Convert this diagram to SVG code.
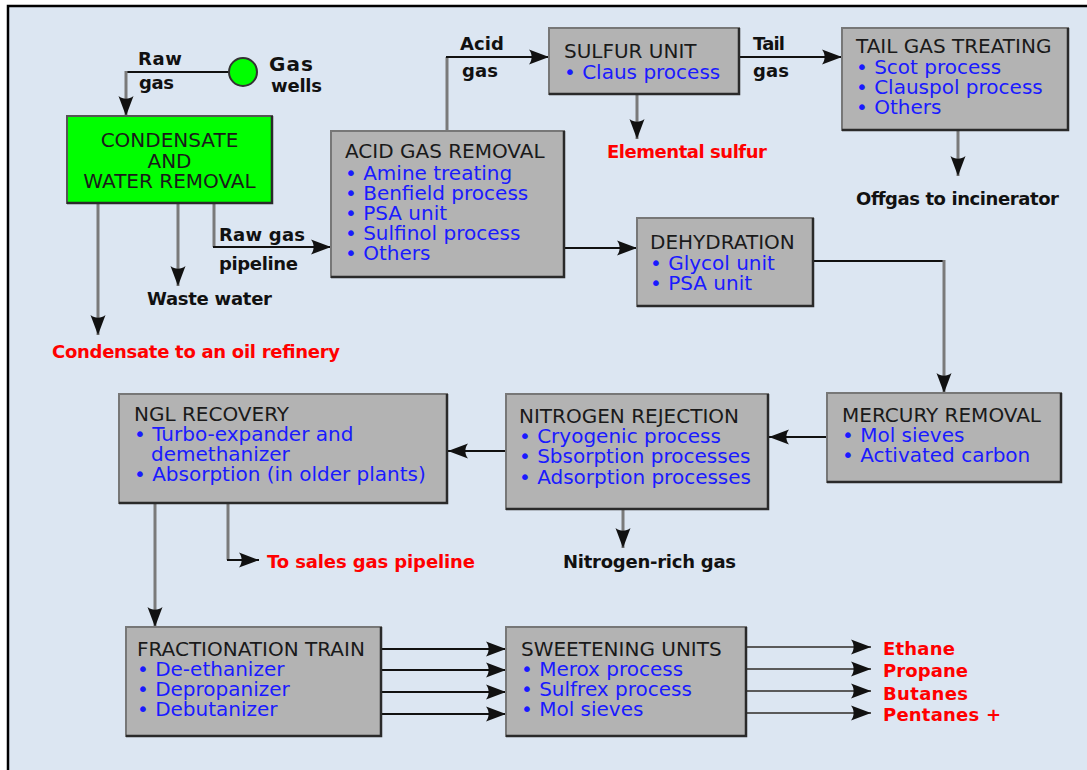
<svg xmlns="http://www.w3.org/2000/svg" width="1087" height="770" viewBox="0 0 1087 770">
<style>
.box{fill:#b3b3b3;stroke:#777;stroke-width:2}
.sh{fill:none;stroke:#2a2a2a;stroke-width:2.5}
.hd{font-family:"DejaVu Sans",Verdana,sans-serif;font-size:20px;fill:#1a1a1a}
.it{font-family:"DejaVu Sans",Verdana,sans-serif;font-size:20px;fill:#1a1aff}
.lb{font-family:"DejaVu Sans","Liberation Sans",sans-serif;font-size:18px;font-weight:bold;fill:#111}
.rd{fill:#ff0000}
.h{fill:none;stroke:#111;stroke-width:2}
.v{fill:none;stroke:#7a7a7a;stroke-width:3}
.g{fill:none;stroke:#5a5a5a;stroke-width:2.2}
.a{marker-end:url(#arr)}
</style>
<defs>
<marker id="arr" markerUnits="userSpaceOnUse" markerWidth="24" markerHeight="18" viewBox="-22 -9 24 18" refX="0" refY="0" orient="auto">
<path d="M0,0 L-20,-7.5 C-16.5,-3 -16.5,3 -20,7.5 Z" fill="#111"/>
</marker>
</defs>
<rect x="0" y="0" width="1087" height="770" fill="#ffffff"/>
<rect x="8" y="6" width="1079" height="764" fill="#dce6f2"/>
<path d="M8,770 V6 H1087" fill="none" stroke="#000" stroke-width="2.5"/>

<g id="connectors">
<path class="h" d="M229,72 H126"/>
<path class="v a" d="M126,71 V116"/>
<path class="v a" d="M98,204 V335"/>
<path class="v a" d="M178,204 V286"/>
<path class="v" d="M214,204 V247"/>
<path class="h a" d="M213,247 H331"/>
<path class="v" d="M447,131 V57"/>
<path class="h a" d="M446,57 H549"/>
<path class="v a" d="M637,95 V139"/>
<path class="h a" d="M740,57 H842"/>
<path class="v a" d="M958,131 V176"/>
<path class="h a" d="M565,248 H637"/>
<path class="h" d="M814,261 H945"/>
<path class="v a" d="M944,260 V393"/>
<path class="h a" d="M827,437 H769"/>
<path class="h a" d="M506,451 H448"/>
<path class="v a" d="M623,510 V548"/>
<path class="v" d="M228,504 V560"/>
<path class="h a" d="M227,560 H259"/>
<path class="v a" d="M155,504 V627"/>
<path class="h a" d="M382,649 H506"/>
<path class="h a" d="M382,670 H506"/>
<path class="h a" d="M382,692 H506"/>
<path class="h a" d="M382,714 H506"/>
<path class="g a" d="M747,647 H871"/>
<path class="g a" d="M747,669 H871"/>
<path class="g a" d="M747,691 H871"/>
<path class="g a" d="M747,713 H871"/>
</g>

<g id="gas-wells">
<circle cx="243" cy="72" r="14" fill="#00ff00" stroke="#333" stroke-width="2"/>
<text class="lb" x="269" y="71" style="font-size:20px" textLength="44">Gas</text>
<text class="lb" x="271" y="92" textLength="51">wells</text>
</g>

<g id="labels">
<text class="lb" x="138" y="65" textLength="44">Raw</text>
<text class="lb" x="139" y="89" textLength="35">gas</text>
<text class="lb" x="219" y="241" textLength="86">Raw gas</text>
<text class="lb" x="219" y="270" textLength="79">pipeline</text>
<text class="lb" x="147" y="305" textLength="125">Waste water</text>
<text class="lb rd" x="52" y="358" textLength="288">Condensate to an oil refinery</text>
<text class="lb" x="460" y="50" textLength="44">Acid</text>
<text class="lb" x="462" y="77" textLength="36">gas</text>
<text class="lb" x="753" y="50" textLength="32">Tail</text>
<text class="lb" x="753" y="77" textLength="36">gas</text>
<text class="lb rd" x="607" y="158" textLength="160">Elemental sulfur</text>
<text class="lb" x="856" y="205" textLength="203">Offgas to incinerator</text>
<text class="lb rd" x="267" y="568" textLength="208">To sales gas pipeline</text>
<text class="lb" x="563" y="568" textLength="173">Nitrogen-rich gas</text>
<text class="lb rd" x="883" y="655" textLength="72">Ethane</text>
<text class="lb rd" x="883" y="677" textLength="85">Propane</text>
<text class="lb rd" x="883" y="700" textLength="85">Butanes</text>
<text class="lb rd" x="883" y="721" textLength="118">Pentanes +</text>
</g>

<g id="condensate">
<rect x="67" y="116" width="205" height="87" fill="#00ff00" stroke="#555" stroke-width="2"/>
<path class="sh" d="M272,116 V203 H67"/>
<text class="hd" x="169.5" y="147" text-anchor="middle">CONDENSATE</text>
<text class="hd" x="169.5" y="168" text-anchor="middle">AND</text>
<text class="hd" x="169.5" y="188" text-anchor="middle">WATER REMOVAL</text>
</g>

<g id="acid-gas-removal">
<rect class="box" x="331" y="131" width="233" height="146"/>
<path class="sh" d="M564,131 V277 H331"/>
<text class="hd" x="345" y="158">ACID GAS REMOVAL</text>
<text class="it" x="345" y="180">• Amine treating</text>
<text class="it" x="345" y="200">• Benfield process</text>
<text class="it" x="345" y="220">• PSA unit</text>
<text class="it" x="345" y="240">• Sulfinol process</text>
<text class="it" x="345" y="260">• Others</text>
</g>

<g id="sulfur-unit">
<rect class="box" x="549" y="28" width="190" height="66"/>
<path class="sh" d="M739,28 V94 H549"/>
<text class="hd" x="564" y="58">SULFUR UNIT</text>
<text class="it" x="564" y="79">• Claus process</text>
</g>

<g id="tail-gas-treating">
<rect class="box" x="842" y="28" width="226" height="102"/>
<path class="sh" d="M1068,28 V130 H842"/>
<text class="hd" x="856" y="53">TAIL GAS TREATING</text>
<text class="it" x="856" y="74">• Scot process</text>
<text class="it" x="856" y="94">• Clauspol process</text>
<text class="it" x="856" y="114">• Others</text>
</g>

<g id="dehydration">
<rect class="box" x="637" y="218" width="176" height="88"/>
<path class="sh" d="M813,218 V306 H637"/>
<text class="hd" x="650" y="249">DEHYDRATION</text>
<text class="it" x="650" y="270">• Glycol unit</text>
<text class="it" x="650" y="290">• PSA unit</text>
</g>

<g id="mercury-removal">
<rect class="box" x="827" y="393" width="234" height="89"/>
<path class="sh" d="M1061,393 V482 H827"/>
<text class="hd" x="842" y="422">MERCURY REMOVAL</text>
<text class="it" x="842" y="442">• Mol sieves</text>
<text class="it" x="842" y="462">• Activated carbon</text>
</g>

<g id="nitrogen-rejection">
<rect class="box" x="506" y="394" width="262" height="115"/>
<path class="sh" d="M768,394 V509 H506"/>
<text class="hd" x="519" y="423">NITROGEN REJECTION</text>
<text class="it" x="519" y="443">• Cryogenic process</text>
<text class="it" x="519" y="463">• Sbsorption processes</text>
<text class="it" x="519" y="484">• Adsorption processes</text>
</g>

<g id="ngl-recovery">
<rect class="box" x="119" y="394" width="328" height="109"/>
<path class="sh" d="M447,394 V503 H119"/>
<text class="hd" x="134" y="421">NGL RECOVERY</text>
<text class="it" x="134" y="441">• Turbo-expander and</text>
<text class="it" x="151" y="461">demethanizer</text>
<text class="it" x="134" y="481">• Absorption (in older plants)</text>
</g>

<g id="fractionation-train">
<rect class="box" x="126" y="627" width="255" height="109"/>
<path class="sh" d="M381,627 V736 H126"/>
<text class="hd" x="137" y="656">FRACTIONATION TRAIN</text>
<text class="it" x="137" y="676">• De-ethanizer</text>
<text class="it" x="137" y="696">• Depropanizer</text>
<text class="it" x="137" y="716">• Debutanizer</text>
</g>

<g id="sweetening-units">
<rect class="box" x="506" y="627" width="240" height="109"/>
<path class="sh" d="M746,627 V736 H506"/>
<text class="hd" x="521" y="656">SWEETENING UNITS</text>
<text class="it" x="521" y="676">• Merox process</text>
<text class="it" x="521" y="696">• Sulfrex process</text>
<text class="it" x="521" y="716">• Mol sieves</text>
</g>
</svg>
